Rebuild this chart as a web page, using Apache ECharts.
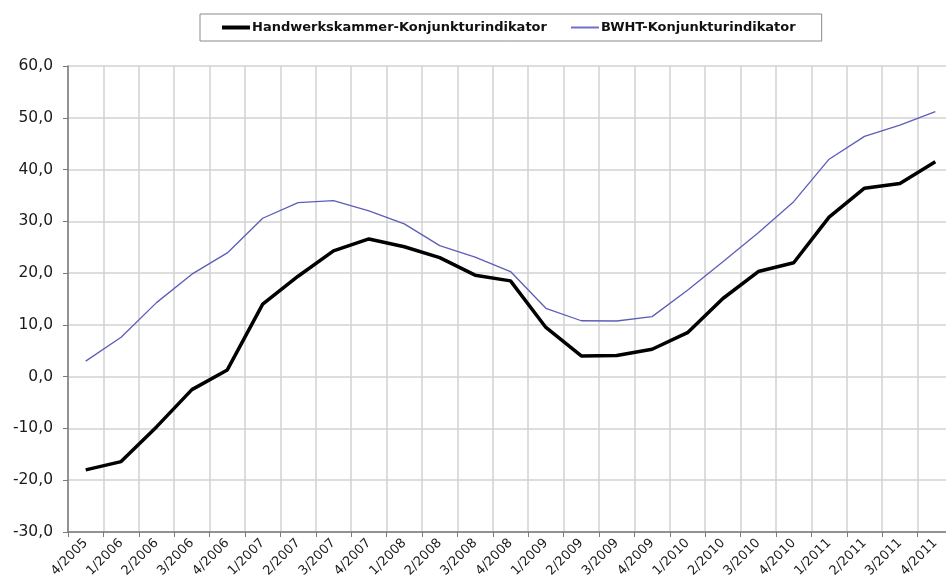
<!DOCTYPE html>
<html>
<head>
<meta charset="utf-8">
<script src="https://cdn.jsdelivr.net/npm/echarts@6/dist/echarts.min.js"></script>
<style>
html,body{margin:0;padding:0;background:#fff;}
#chart{width:946px;height:585px;}
</style>
</head>
<body>
<div id="chart"></div>
<script>
const categories = ["4/2005","1/2006","2/2006","3/2006","4/2006","1/2007","2/2007","3/2007","4/2007","1/2008","2/2008","3/2008","4/2008","1/2009","2/2009","3/2009","4/2009","1/2010","2/2010","3/2010","4/2010","1/2011","2/2011","3/2011","4/2011"];
const handwerkskammer = [-18.0,-16.4,-9.7,-2.5,1.3,14.0,19.4,24.3,26.6,25.1,23.0,19.6,18.5,9.5,4.0,4.1,5.3,8.5,15.1,20.3,22.0,30.8,36.4,37.3,41.5];
const bwht = [3.0,7.6,14.3,19.8,23.9,30.6,33.6,34.0,32.0,29.5,25.3,23.1,20.3,13.2,10.8,10.75,11.6,16.7,22.2,27.8,33.8,42.0,46.4,48.6,51.2];
const seriesNames = ["Handwerkskammer-Konjunkturindikator","BWHT-Konjunkturindikator"];

const FONT = 'DejaVu Sans, Verdana, sans-serif';
const chart = echarts.init(document.getElementById('chart'), null, {renderer:'canvas'});
chart.setOption({
  animation:false,
  backgroundColor:'#fff',
  legend:{
    left:200, top:14,
    padding:[7,26,7,22],
    borderColor:'#8a8a8a', borderWidth:1,
    itemWidth:28, itemHeight:4, itemGap:24,
    textStyle:{fontFamily:FONT, fontWeight:'bold', fontSize:13, color:'#111', padding:[0,0,0,-3]},
    data:[
      {name:seriesNames[0], icon:'path://M0,0H28V4H0Z', itemStyle:{color:'#000'}},
      {name:seriesNames[1], icon:'path://M0,0H28V2H0Z', itemStyle:{color:'#7070cc'}}
    ]
  },
  grid:{left:68, top:66, width:885, height:466, containLabel:false, outerBoundsMode:'none'},
  xAxis:{
    type:'category', data:categories, boundaryGap:true,
    axisLine:{onZero:false, lineStyle:{color:'#7a7a7a', width:1.5}},
    axisTick:{show:true, length:5, lineStyle:{color:'#7a7a7a'}},
    axisLabel:{rotate:45, margin:9, fontFamily:FONT, fontSize:13, color:'#1a1a1a', interval:0},
    splitLine:{show:true, lineStyle:{color:'#d2d2d2', width:1.5}}
  },
  yAxis:{
    type:'value', min:-30, max:60, interval:10,
    axisLine:{show:true, lineStyle:{color:'#7a7a7a', width:1.5}},
    axisTick:{show:true, length:5, lineStyle:{color:'#7a7a7a'}},
    axisLabel:{margin:15, fontFamily:FONT, fontSize:15.5, color:'#1a1a1a',
      formatter:v=>v.toFixed(1).replace('.',',')},
    splitLine:{show:true, lineStyle:{color:'#d2d2d2', width:1.5}}
  },
  series:[
    {name:seriesNames[0], type:'line', data:handwerkskammer, symbol:'none', z:3,
      lineStyle:{color:'#000', width:3.5}, itemStyle:{color:'#000'}},
    {name:seriesNames[1], type:'line', data:bwht, symbol:'none', z:2,
      lineStyle:{color:'#5d5db8', width:1.3}, itemStyle:{color:'#7070cc'}}
  ]
});
</script>
</body>
</html>
